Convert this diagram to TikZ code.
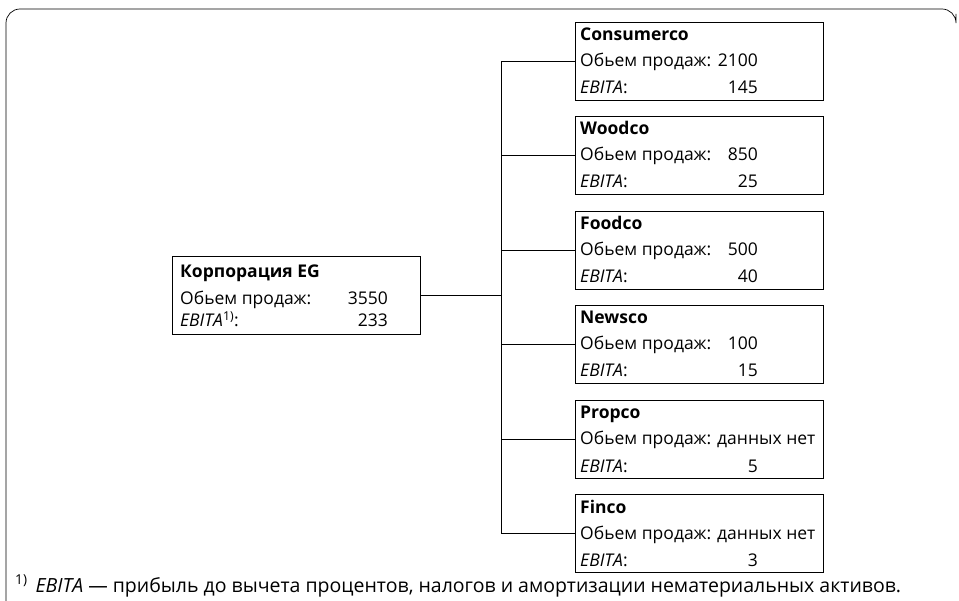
\documentclass[tikz,border=0pt]{standalone}
\usepackage{fontspec}
\setmainfont{Open Sans}
\usetikzlibrary{calc}
\newcommand{\egfont}{\fontsize{17.5}{21}\selectfont}
\newcommand{\egnotefont}{\fontsize{19.5}{23}\selectfont}
\tikzset{
  box/.style={draw, line width=0.9pt, minimum width=248pt, minimum height=78pt, anchor=north west, inner sep=0pt},
  lbl/.style={anchor=base west, inner sep=0pt, font=\egfont},
  ttl/.style={anchor=base west, inner sep=0pt, font=\egfont\bfseries},
  val/.style={anchor=base east, inner sep=0pt, font=\egfont},
  note/.style={anchor=base west, inner sep=0pt, font=\egnotefont},
  conn/.style={line width=0.9pt},
  frame/.style={line width=0.7pt, rounded corners=14pt}
}
\newcommand{\egchild}[5]{%
  \node[box] (#1) at (575,#2) {};
  \node[ttl] (#1-t) at ($(#1.north west)+(5,19)$) {#3};
  \node[lbl] (#1-s) at ($(#1.north west)+(5,45)$) {Обьем продаж:};
  #4
  \node[lbl] (#1-e) at ($(#1.north west)+(5,72)$) {\textit{EBITA}:};
  \node[val] (#1-ev) at ($(#1.north west)+(183,72)$) {#5};
  \draw[conn] (#1.west) -- (#1.west -| busx);
}
\begin{document}
\begin{tikzpicture}[x=1pt,y=-1pt]
\useasboundingbox (0,0) rectangle (959,601);
% outer frame (top and left edges)
\draw[frame] (6,601) -- (6,9) -- (956,9) -- (956,14);
\coordinate (busx) at (501,0);
% main box
\node[box] (eg) at (172,256) {};
\node[ttl] (eg-t) at ($(eg.north west)+(8,22)$) {Корпорация EG};
\node[lbl] (eg-s) at ($(eg.north west)+(8,49)$) {Обьем продаж:};
\node[val] (eg-sv) at ($(eg.north west)+(216,49)$) {3550};
\node[lbl] (eg-e) at ($(eg.north west)+(8,71)$) {\textit{EBITA}\textsuperscript{1)}:};
\node[val] (eg-ev) at ($(eg.north west)+(216,71)$) {233};
\draw[conn] (eg.east) -- (eg.east -| busx);
% children
\egchild{cons}{22}{Consumerco}{\node[val] (cons-sv) at ($(cons.north west)+(183,45)$) {2100};}{145}
\egchild{wood}{116}{Woodco}{\node[val] (wood-sv) at ($(wood.north west)+(183,45)$) {850};}{25}
\egchild{food}{211}{Foodco}{\node[val] (food-sv) at ($(food.north west)+(183,45)$) {500};}{40}
\egchild{news}{305}{Newsco}{\node[val] (news-sv) at ($(news.north west)+(183,45)$) {100};}{15}
\egchild{prop}{400}{Propco}{\node[lbl] (prop-sv) at ($(prop.north west)+(142,45)$) {данных нет};}{5}
\egchild{fin}{494}{Finco}{\node[lbl] (fin-sv) at ($(fin.north west)+(142,45)$) {данных нет};}{3}
% bus
\draw[conn] (cons.west -| busx) -- (fin.west -| busx);
% footnote
\node[note] (fn) at (15,592) {\textsuperscript{1)}\hspace{8pt}\textit{EBITA} — прибыль до вычета процентов, налогов и амортизации нематериальных активов.};
\end{tikzpicture}
\end{document}
